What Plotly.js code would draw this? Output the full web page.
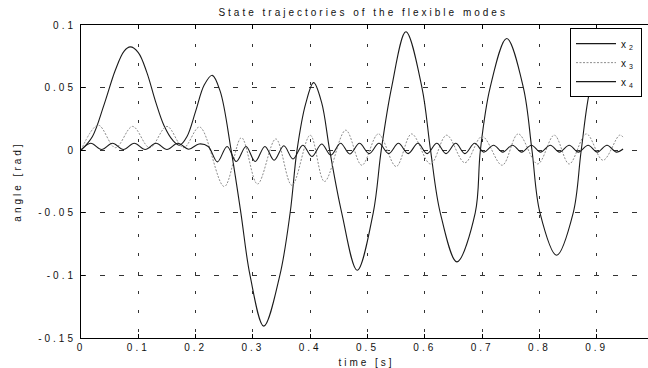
<!DOCTYPE html>
<html>
<head>
<meta charset="utf-8">
<script src="https://cdn.plot.ly/plotly-3.0.1.min.js"></script>
<style>
  html, body { margin: 0; padding: 0; background: #fff; overflow: hidden; }
  #wrap { width: 648px; height: 368px; overflow: hidden; }
  #chart { width: 652px; height: 368px; }
  .gtitle, .xtick text, .ytick text, .g-xtitle text, .g-ytitle text, .legendtext { letter-spacing: 3px; }
</style>
</head>
<body>
<div id="wrap"><div id="chart"></div></div>
<script>
// ---- data ----
var x2T = [0, 0.02, 0.04, 0.06, 0.075, 0.086, 0.1, 0.115, 0.13, 0.145, 0.16, 0.172, 0.185, 0.2, 0.215, 0.229, 0.243, 0.262, 0.279, 0.295, 0.319, 0.347, 0.365, 0.377, 0.392, 0.406, 0.42, 0.434, 0.455, 0.482, 0.51, 0.524, 0.542, 0.567, 0.595, 0.61, 0.627, 0.656, 0.688, 0.697, 0.714, 0.743, 0.772, 0.787, 0.801, 0.83, 0.859, 0.873, 0.889, 0.915];
var x2V = [0, 0.011, 0.036, 0.064, 0.079, 0.0825, 0.078, 0.062, 0.039, 0.0195, 0.008, 0.004, 0.011, 0.031, 0.052, 0.0598, 0.047, 0, -0.05, -0.1, -0.1405, -0.1, -0.05, 0, 0.037, 0.054, 0.038, 0, -0.05, -0.0959, -0.05, 0, 0.05, 0.0946, 0.05, 0, -0.05, -0.0892, -0.05, 0, 0.05, 0.0892, 0.05, 0, -0.05, -0.0839, -0.05, 0, 0.05, 0.085];

var x3T = [0, 0.03, 0.06, 0.09, 0.12, 0.15, 0.179, 0.207, 0.25, 0.28, 0.308, 0.34, 0.368, 0.40, 0.425, 0.462, 0.49, 0.519, 0.55, 0.577, 0.61, 0.638, 0.67, 0.70, 0.735, 0.763, 0.797, 0.826, 0.852, 0.882, 0.911, 0.94, 0.947];
var x3V = [0, 0.02, 0.002, 0.019, 0.002, 0.019, 0.002, 0.0185, -0.029, 0.01, -0.027, 0.009, -0.028, 0.012, -0.025, 0.016, -0.012, 0.013, -0.013, 0.013, -0.011, 0.012, -0.01, 0.011, -0.012, 0.013, -0.011, 0.012, -0.011, 0.013, -0.008, 0.012, 0.01];

var x4T = [0, 0.017, 0.036, 0.055, 0.074, 0.093, 0.112, 0.131, 0.15, 0.169, 0.188, 0.206, 0.222,
           0.238, 0.255, 0.271, 0.288, 0.304, 0.321, 0.337, 0.354, 0.370, 0.387, 0.403, 0.42, 0.436, 0.453, 0.469, 0.486,
           0.503, 0.52, 0.537, 0.554, 0.571, 0.588, 0.604, 0.621, 0.637, 0.654, 0.670, 0.687, 0.703, 0.72, 0.736, 0.753,
           0.769, 0.786, 0.802, 0.819, 0.835, 0.852, 0.868, 0.885, 0.901, 0.918, 0.934, 0.946];
var x4V = [0, 0.0055, 0.0005, 0.0055, 0.0005, 0.0055, 0.0005, 0.0055, 0.0005, 0.0055, 0.0008, 0.005, 0.003,
           -0.0093, 0.003, -0.009, 0.003, -0.009, 0.003, -0.008, 0.0035, -0.007, 0.004, -0.005, 0.005, -0.004, 0.0055, -0.003, 0.0055,
           -0.0027, 0.0055, -0.0027, 0.0055, -0.0027, 0.0055, -0.0027, 0.0055, -0.0027, 0.0055, -0.0027, 0.0055, -0.0015, 0.004, -0.0015, 0.004,
           -0.0015, 0.004, -0.0015, 0.004, -0.0015, 0.004, -0.0015, 0.004, -0.0015, 0.004, -0.0015, 0.001];

var seriesNames = ['x<sub>2</sub>', 'x<sub>3</sub>', 'x<sub>4</sub>'];
var xTickVals = [0, 0.1, 0.2, 0.3, 0.4, 0.5, 0.6, 0.7, 0.8, 0.9];
var xTickText = ['0', '0.1', '0.2', '0.3', '0.4', '0.5', '0.6', '0.7', '0.8', '0.9'];
var yTickVals = [0.1, 0.05, 0, -0.05, -0.1, -0.15];
var yTickText = ['0.1', '0.05', '0', '-0.05', '-0.1', '-0.15'];

var FONT = 'Liberation Sans, Arial, sans-serif';
var INK = '#111111';

var traces = [
  { x: x2T, y: x2V, name: seriesNames[0], mode: 'lines', line: { color: '#1a1a1a', width: 1.1, shape: 'spline', smoothing: 1 } },
  { x: x3T, y: x3V, name: seriesNames[1], mode: 'lines', line: { color: '#8c8c8c', width: 1, dash: '2px,1.5px', shape: 'spline', smoothing: 1 } },
  { x: x4T, y: x4V, name: seriesNames[2], mode: 'lines', line: { color: '#1a1a1a', width: 1.1, shape: 'spline', smoothing: 1 } }
];

var layout = {
  width: 652, height: 368,
  margin: { l: 81, r: 0, t: 25, b: 30 },
  paper_bgcolor: '#fff', plot_bgcolor: '#fff',
  font: { family: FONT, size: 10, color: INK },
  title: { text: 'State trajectories of the flexible modes', font: { family: FONT, size: 10, color: INK },
           x: 0.557, xanchor: 'center', y: 0.966, yanchor: 'middle' },
  showlegend: true,
  legend: { x: 0.9825, xanchor: 'right', y: 0.99, yanchor: 'top', bgcolor: '#fff', bordercolor: '#000', borderwidth: 1,
            font: { family: FONT, size: 10, color: INK }, tracegroupgap: 0, itemwidth: 40 },
  xaxis: {
    range: [0, 0.9965], tickvals: xTickVals, ticktext: xTickText,
    showline: true, linecolor: '#000', linewidth: 1, mirror: 'ticks',
    ticks: 'inside', ticklen: 4, tickcolor: '#000',
    showgrid: true, gridcolor: '#333', gridwidth: 1, griddash: '3px,16px',
    zeroline: false,
    title: { text: 'time [s]', font: { family: FONT, size: 10, color: INK }, standoff: 6 },
    tickfont: { family: FONT, size: 10, color: INK }
  },
  yaxis: {
    range: [-0.15, 0.1], tickvals: yTickVals, ticktext: yTickText,
    showline: true, linecolor: '#000', linewidth: 1, mirror: 'ticks',
    ticks: 'inside', ticklen: 4, tickcolor: '#000',
    showgrid: true, gridcolor: '#333', gridwidth: 1, griddash: '5px,14px',
    zeroline: false,
    ticklabelstandoff: 2,
    title: { text: 'angle [rad]', font: { family: FONT, size: 10, color: INK }, standoff: 14 },
    tickfont: { family: FONT, size: 10, color: INK }
  }
};

Plotly.newPlot('chart', traces, layout, { displayModeBar: false, staticPlot: true });
</script>
</body>
</html>
